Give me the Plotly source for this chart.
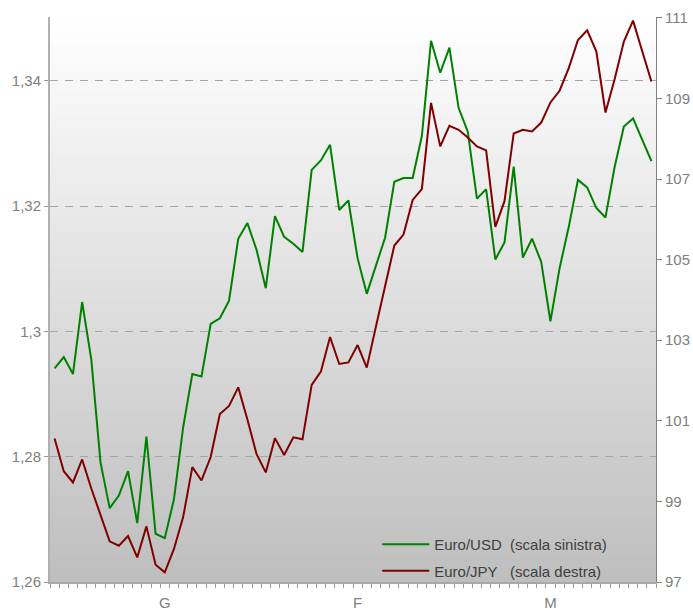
import plotly.graph_objects as go

# ---- data ----
days = list(range(66))
month_labels = ["G", "F", "M"]
month_pos = [12, 33, 54]

eur_usd = [1.2941, 1.2959, 1.2932, 1.3047, 1.2955, 1.2791, 1.2718, 1.2738, 1.2777, 1.2694,
           1.2832, 1.2677, 1.2670, 1.2732, 1.2847, 1.2932, 1.2928, 1.3012, 1.3021, 1.3049,
           1.3148, 1.3173, 1.3130, 1.3069, 1.3184, 1.3151, 1.3140, 1.3127, 1.3258, 1.3273,
           1.3298, 1.3194, 1.3209, 1.3117, 1.3060, 1.3105, 1.3150, 1.3239, 1.3245, 1.3245,
           1.3312, 1.3464, 1.3413, 1.3453, 1.3357, 1.3319, 1.3212, 1.3227, 1.3115, 1.3142,
           1.3263, 1.3118, 1.3148, 1.3111, 1.3016, 1.3101, 1.3167, 1.3242, 1.3230, 1.3197,
           1.3182, 1.3263, 1.3327, 1.3340, 1.3306, 1.3272]

eur_jpy = [100.56, 99.75, 99.47, 100.04, 99.32, 98.65, 98.01, 97.90, 98.14, 97.61,
           98.38, 97.43, 97.24, 97.82, 98.61, 99.85, 99.52, 100.10, 101.17, 101.37,
           101.83, 101.03, 100.17, 99.72, 100.57, 100.15, 100.59, 100.54, 101.89, 102.22,
           103.08, 102.41, 102.45, 102.88, 102.32, 103.34, 104.38, 105.35, 105.62, 106.48,
           106.75, 108.89, 107.81, 108.32, 108.22, 108.03, 107.81, 107.71, 105.81, 106.45,
           108.13, 108.22, 108.18, 108.40, 108.90, 109.19, 109.75, 110.45, 110.69, 110.17,
           108.65, 109.48, 110.41, 110.93, 110.17, 109.42]

left_ticks = [1.26, 1.28, 1.30, 1.32, 1.34]
left_ticktext = ["1,26", "1,28", "1,3", "1,32", "1,34"]
right_ticks = [97, 99, 101, 103, 105, 107, 109, 111]

FONT = "Liberation Sans, Arial, sans-serif"
TICKCOL = "#808080"

fig = go.Figure()
fig.add_trace(go.Scatter(x=days, y=eur_usd, mode="lines", name="Euro/USD\u00a0\u00a0(scala sinistra)",
                         line=dict(color="#008000", width=2), yaxis="y", legendgroup="a"))
fig.add_trace(go.Scatter(x=days, y=eur_jpy, mode="lines", name="Euro/JPY\u00a0\u00a0\u00a0(scala destra)",
                         line=dict(color="#800000", width=2), yaxis="y2", legendgroup="b"))

# vertical gradient background (white -> grey)
n = 120
shapes = []
for k in range(n):
    t = (k + 0.5) / n
    c = int(round(255 - (255 - 190) * (1 - t)))
    shapes.append(dict(type="rect", xref="paper", yref="paper",
                       x0=0, x1=1, y0=k / n, y1=min(1, (k + 1.6) / n),
                       fillcolor=f"rgb({c},{c},{c})", line=dict(width=0), layer="below"))

fig.update_layout(
    width=693, height=610,
    margin=dict(l=50, r=37, t=17, b=28),
    paper_bgcolor="white",
    plot_bgcolor="rgba(0,0,0,0)",
    separators=", ",
    font=dict(family=FONT, size=15, color=TICKCOL),
    shapes=shapes,
    showlegend=True,
    legend=dict(x=0.54, y=-0.009, xanchor="left", yanchor="bottom",
                bgcolor="rgba(0,0,0,0)", font=dict(size=15, color="#404040"),
                tracegroupgap=4, itemwidth=47),
    xaxis=dict(range=[-0.5, 65.5], tickvals=month_pos, ticktext=month_labels,
               ticks="outside", ticklen=4, tickcolor="rgba(0,0,0,0)", automargin=False,
               minor=dict(ticks="outside", tick0=-0.5, dtick=1, ticklen=4, tickcolor="#999999", showgrid=False),
               showline=True, linecolor="#a8a8a8", linewidth=2, showgrid=False, zeroline=False,
               tickfont=dict(size=15, color=TICKCOL), ticklabelstandoff=2),
    yaxis=dict(range=[1.26, 1.3502], tickvals=left_ticks, ticktext=left_ticktext,
               ticks="outside", ticklen=4, tickcolor="#999999", automargin=False,
               showline=True, linecolor="#b0b0b0", linewidth=2,
               showgrid=True, gridcolor="#a6a6a6", griddash="8px,7px", gridwidth=1, zeroline=False,
               tickfont=dict(size=15, color=TICKCOL)),
    yaxis2=dict(range=[97, 111.02], tickvals=right_ticks, overlaying="y", side="right",
                ticks="outside", ticklen=5, tickcolor="#808080", automargin=False,
                showline=True, linecolor="#808080", linewidth=1, showgrid=False, zeroline=False,
                tickfont=dict(size=15, color=TICKCOL)),
)

fig.write_html("out.html")
